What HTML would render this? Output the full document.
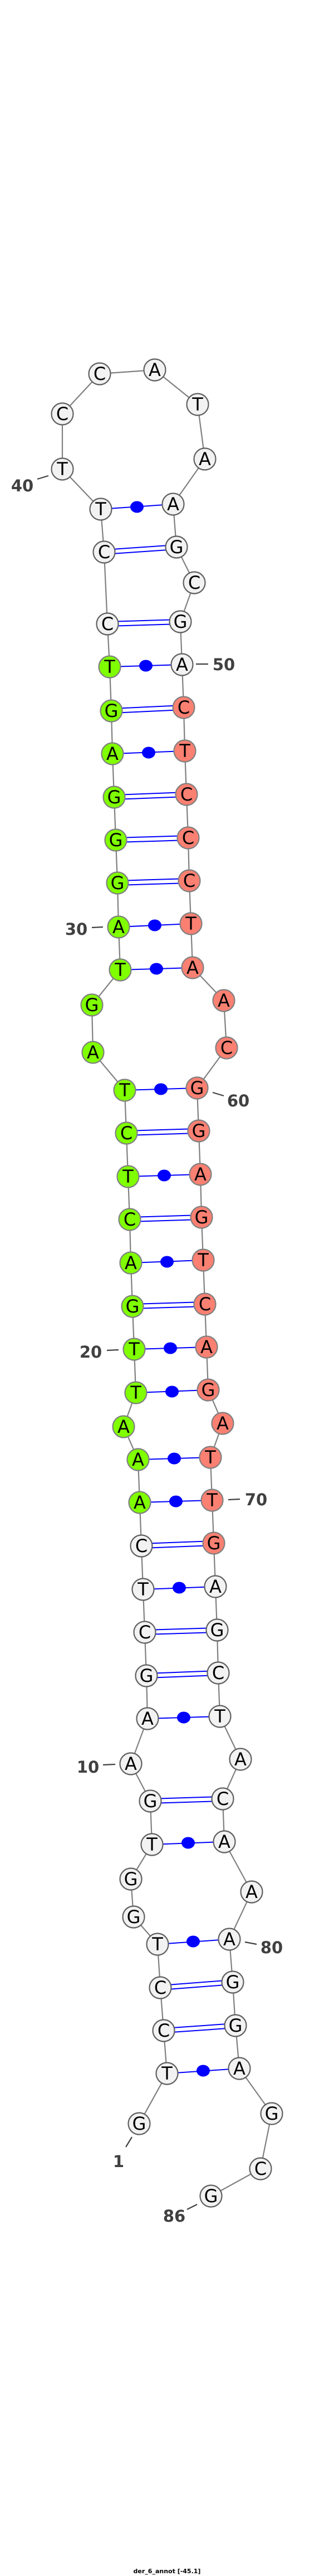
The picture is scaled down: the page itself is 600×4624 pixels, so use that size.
<!DOCTYPE html>
<html><head><meta charset="utf-8"><style>
html,body{margin:0;padding:0;background:#fff;}
svg{display:block;}
.n text{font-family:"DejaVu Sans","Liberation Sans",sans-serif;font-size:32px;text-anchor:middle;fill:#000;}
.lb{font-family:"DejaVu Sans","Liberation Sans",sans-serif;font-weight:bold;font-size:29px;fill:#404040;text-anchor:middle;}
.w{fill:#f2f2f2;stroke:#606060;stroke-width:2.2;}
.g{fill:#7fff00;stroke:#808080;stroke-width:2.2;}
.s{fill:#fa8072;stroke:#808080;stroke-width:2.2;}
.bp{stroke:#0000ff;stroke-width:2;fill:none;}
.tk{stroke:#404040;stroke-width:2.2;}
</style></head><body>
<svg width="600" height="4624" viewBox="0 0 600 4624" xmlns="http://www.w3.org/2000/svg">
<polyline fill="none" stroke="#808080" stroke-width="2.2" points="250,3812 300,3722 294,3645 288,3568 283,3490 240,3441 235,3373 273,3311 270,3233 235,3166 265,3085 263,3008 260,2930 257,2853 254,2775 251,2697 248,2620 222,2561 244,2500 241,2422 238,2345 235,2267 233,2189 230,2112 227,2034 224,1957 167,1889 165,1804 216,1741 213,1664 211,1585 208,1508 205,1431 202,1353 200,1276 197,1197 193,1120 187,991 181,914 112,842 112,743 179,671 278,664 355,726 368,824 311,905 317,982 349,1046 324,1116 327,1193 330,1270 332,1348 335,1426 338,1504 340,1581 343,1658 346,1737 402,1796 407,1881 354,1953 357,2030 360,2108 362,2185 365,2262 368,2341 371,2418 374,2495 400,2555 378,2616 381,2693 384,2770 387,2848 390,2926 392,3003 395,3081 432,3158 400,3229 403,3306 452,3396 412,3481 418,3558 423,3636 430,3713 488,3794 468,3893 379,3942"/>
<g class="bp">
<line x1="181" y1="914" x2="311" y2="905"/>
<line x1="187" y1="987" x2="317" y2="978"/><line x1="187" y1="995" x2="317" y2="986"/>
<line x1="193" y1="1116" x2="324" y2="1112"/><line x1="193" y1="1124" x2="324" y2="1120"/>
<line x1="197" y1="1197" x2="327" y2="1193"/>
<line x1="200" y1="1272" x2="330" y2="1266"/><line x1="200" y1="1280" x2="330" y2="1274"/>
<line x1="202" y1="1353" x2="332" y2="1348"/>
<line x1="205" y1="1427" x2="335" y2="1422"/><line x1="205" y1="1435" x2="335" y2="1430"/>
<line x1="208" y1="1504" x2="338" y2="1500"/><line x1="208" y1="1512" x2="338" y2="1508"/>
<line x1="211" y1="1581" x2="340" y2="1577"/><line x1="211" y1="1589" x2="340" y2="1585"/>
<line x1="213" y1="1664" x2="343" y2="1658"/>
<line x1="216" y1="1741" x2="346" y2="1737"/>
<line x1="224" y1="1957" x2="354" y2="1953"/>
<line x1="227" y1="2030" x2="357" y2="2026"/><line x1="227" y1="2038" x2="357" y2="2034"/>
<line x1="230" y1="2112" x2="360" y2="2108"/>
<line x1="233" y1="2185" x2="362" y2="2181"/><line x1="233" y1="2193" x2="362" y2="2189"/>
<line x1="235" y1="2267" x2="365" y2="2262"/>
<line x1="238" y1="2341" x2="368" y2="2337"/><line x1="238" y1="2349" x2="368" y2="2345"/>
<line x1="241" y1="2422" x2="371" y2="2418"/>
<line x1="244" y1="2500" x2="374" y2="2495"/>
<line x1="248" y1="2620" x2="378" y2="2616"/>
<line x1="251" y1="2697" x2="381" y2="2693"/>
<line x1="254" y1="2771" x2="384" y2="2766"/><line x1="254" y1="2779" x2="384" y2="2774"/>
<line x1="257" y1="2853" x2="387" y2="2848"/>
<line x1="260" y1="2926" x2="390" y2="2922"/><line x1="260" y1="2934" x2="390" y2="2930"/>
<line x1="263" y1="3004" x2="392" y2="2999"/><line x1="263" y1="3012" x2="392" y2="3007"/>
<line x1="265" y1="3085" x2="395" y2="3081"/>
<line x1="270" y1="3229" x2="400" y2="3225"/><line x1="270" y1="3237" x2="400" y2="3233"/>
<line x1="273" y1="3311" x2="403" y2="3306"/>
<line x1="283" y1="3490" x2="412" y2="3481"/>
<line x1="288" y1="3564" x2="418" y2="3554"/><line x1="288" y1="3572" x2="418" y2="3562"/>
<line x1="294" y1="3641" x2="423" y2="3632"/><line x1="294" y1="3649" x2="423" y2="3640"/>
<line x1="300" y1="3722" x2="430" y2="3713"/>
</g>
<g fill="#0000ff">
<ellipse cx="246" cy="910" rx="12" ry="10.5"/>
<ellipse cx="262" cy="1195" rx="12" ry="10.5"/>
<ellipse cx="267" cy="1351" rx="12" ry="10.5"/>
<ellipse cx="278" cy="1661" rx="12" ry="10.5"/>
<ellipse cx="281" cy="1739" rx="12" ry="10.5"/>
<ellipse cx="289" cy="1955" rx="12" ry="10.5"/>
<ellipse cx="295" cy="2110" rx="12" ry="10.5"/>
<ellipse cx="300" cy="2265" rx="12" ry="10.5"/>
<ellipse cx="306" cy="2420" rx="12" ry="10.5"/>
<ellipse cx="309" cy="2498" rx="12" ry="10.5"/>
<ellipse cx="313" cy="2618" rx="12" ry="10.5"/>
<ellipse cx="316" cy="2695" rx="12" ry="10.5"/>
<ellipse cx="322" cy="2850" rx="12" ry="10.5"/>
<ellipse cx="330" cy="3083" rx="12" ry="10.5"/>
<ellipse cx="338" cy="3308" rx="12" ry="10.5"/>
<ellipse cx="347" cy="3485" rx="12" ry="10.5"/>
<ellipse cx="365" cy="3717" rx="12" ry="10.5"/>
</g>
<g class="n">
<circle class="w" cx="179" cy="671" r="19.5"/><text x="179" y="682">C</text>
<circle class="w" cx="278" cy="664" r="19.5"/><text x="278" y="675">A</text>
<circle class="w" cx="355" cy="726" r="19.5"/><text x="355" y="737">T</text>
<circle class="w" cx="368" cy="824" r="19.5"/><text x="368" y="835">A</text>
<circle class="w" cx="311" cy="905" r="19.5"/><text x="311" y="916">A</text>
<circle class="w" cx="181" cy="914" r="19.5"/><text x="181" y="925">T</text>
<circle class="w" cx="112" cy="842" r="19.5"/><text x="112" y="853">T</text>
<circle class="w" cx="112" cy="743" r="19.5"/><text x="112" y="754">C</text>
<circle class="w" cx="187" cy="991" r="19.5"/><text x="187" y="1002">C</text>
<circle class="w" cx="317" cy="982" r="19.5"/><text x="317" y="993">G</text>
<circle class="w" cx="349" cy="1046" r="19.5"/><text x="349" y="1057">C</text>
<circle class="w" cx="193" cy="1120" r="19.5"/><text x="193" y="1131">C</text>
<circle class="w" cx="324" cy="1116" r="19.5"/><text x="324" y="1127">G</text>
<circle class="g" cx="197" cy="1197" r="19.5"/><text x="197" y="1208">T</text>
<circle class="w" cx="327" cy="1193" r="19.5"/><text x="327" y="1204">A</text>
<circle class="g" cx="200" cy="1276" r="19.5"/><text x="200" y="1287">G</text>
<circle class="s" cx="330" cy="1270" r="19.5"/><text x="330" y="1281">C</text>
<circle class="g" cx="202" cy="1353" r="19.5"/><text x="202" y="1364">A</text>
<circle class="s" cx="332" cy="1348" r="19.5"/><text x="332" y="1359">T</text>
<circle class="g" cx="205" cy="1431" r="19.5"/><text x="205" y="1442">G</text>
<circle class="s" cx="335" cy="1426" r="19.5"/><text x="335" y="1437">C</text>
<circle class="g" cx="208" cy="1508" r="19.5"/><text x="208" y="1519">G</text>
<circle class="s" cx="338" cy="1504" r="19.5"/><text x="338" y="1515">C</text>
<circle class="g" cx="211" cy="1585" r="19.5"/><text x="211" y="1596">G</text>
<circle class="s" cx="340" cy="1581" r="19.5"/><text x="340" y="1592">C</text>
<circle class="g" cx="213" cy="1664" r="19.5"/><text x="213" y="1675">A</text>
<circle class="s" cx="343" cy="1658" r="19.5"/><text x="343" y="1669">T</text>
<circle class="g" cx="216" cy="1741" r="19.5"/><text x="216" y="1752">T</text>
<circle class="s" cx="346" cy="1737" r="19.5"/><text x="346" y="1748">A</text>
<circle class="g" cx="165" cy="1804" r="19.5"/><text x="165" y="1815">G</text>
<circle class="s" cx="402" cy="1796" r="19.5"/><text x="402" y="1807">A</text>
<circle class="g" cx="167" cy="1889" r="19.5"/><text x="167" y="1900">A</text>
<circle class="s" cx="407" cy="1881" r="19.5"/><text x="407" y="1892">C</text>
<circle class="g" cx="224" cy="1957" r="19.5"/><text x="224" y="1968">T</text>
<circle class="s" cx="354" cy="1953" r="19.5"/><text x="354" y="1964">G</text>
<circle class="g" cx="227" cy="2034" r="19.5"/><text x="227" y="2045">C</text>
<circle class="s" cx="357" cy="2030" r="19.5"/><text x="357" y="2041">G</text>
<circle class="g" cx="230" cy="2112" r="19.5"/><text x="230" y="2123">T</text>
<circle class="s" cx="360" cy="2108" r="19.5"/><text x="360" y="2119">A</text>
<circle class="g" cx="233" cy="2189" r="19.5"/><text x="233" y="2200">C</text>
<circle class="s" cx="362" cy="2185" r="19.5"/><text x="362" y="2196">G</text>
<circle class="g" cx="235" cy="2267" r="19.5"/><text x="235" y="2278">A</text>
<circle class="s" cx="365" cy="2262" r="19.5"/><text x="365" y="2273">T</text>
<circle class="g" cx="238" cy="2345" r="19.5"/><text x="238" y="2356">G</text>
<circle class="s" cx="368" cy="2341" r="19.5"/><text x="368" y="2352">C</text>
<circle class="g" cx="241" cy="2422" r="19.5"/><text x="241" y="2433">T</text>
<circle class="s" cx="371" cy="2418" r="19.5"/><text x="371" y="2429">A</text>
<circle class="g" cx="244" cy="2500" r="19.5"/><text x="244" y="2511">T</text>
<circle class="s" cx="374" cy="2495" r="19.5"/><text x="374" y="2506">G</text>
<circle class="g" cx="222" cy="2561" r="19.5"/><text x="222" y="2572">A</text>
<circle class="s" cx="400" cy="2555" r="19.5"/><text x="400" y="2566">A</text>
<circle class="g" cx="248" cy="2620" r="19.5"/><text x="248" y="2631">A</text>
<circle class="s" cx="378" cy="2616" r="19.5"/><text x="378" y="2627">T</text>
<circle class="g" cx="251" cy="2697" r="19.5"/><text x="251" y="2708">A</text>
<circle class="s" cx="381" cy="2693" r="19.5"/><text x="381" y="2704">T</text>
<circle class="w" cx="254" cy="2775" r="19.5"/><text x="254" y="2786">C</text>
<circle class="s" cx="384" cy="2770" r="19.5"/><text x="384" y="2781">G</text>
<circle class="w" cx="257" cy="2853" r="19.5"/><text x="257" y="2864">T</text>
<circle class="w" cx="387" cy="2848" r="19.5"/><text x="387" y="2859">A</text>
<circle class="w" cx="260" cy="2930" r="19.5"/><text x="260" y="2941">C</text>
<circle class="w" cx="390" cy="2926" r="19.5"/><text x="390" y="2937">G</text>
<circle class="w" cx="263" cy="3008" r="19.5"/><text x="263" y="3019">G</text>
<circle class="w" cx="392" cy="3003" r="19.5"/><text x="392" y="3014">C</text>
<circle class="w" cx="265" cy="3085" r="19.5"/><text x="265" y="3096">A</text>
<circle class="w" cx="395" cy="3081" r="19.5"/><text x="395" y="3092">T</text>
<circle class="w" cx="235" cy="3166" r="19.5"/><text x="235" y="3177">A</text>
<circle class="w" cx="432" cy="3158" r="19.5"/><text x="432" y="3169">A</text>
<circle class="w" cx="270" cy="3233" r="19.5"/><text x="270" y="3244">G</text>
<circle class="w" cx="400" cy="3229" r="19.5"/><text x="400" y="3240">C</text>
<circle class="w" cx="273" cy="3311" r="19.5"/><text x="273" y="3322">T</text>
<circle class="w" cx="403" cy="3306" r="19.5"/><text x="403" y="3317">A</text>
<circle class="w" cx="235" cy="3373" r="19.5"/><text x="235" y="3384">G</text>
<circle class="w" cx="240" cy="3441" r="19.5"/><text x="240" y="3452">G</text>
<circle class="w" cx="452" cy="3396" r="19.5"/><text x="452" y="3407">A</text>
<circle class="w" cx="283" cy="3490" r="19.5"/><text x="283" y="3501">T</text>
<circle class="w" cx="412" cy="3481" r="19.5"/><text x="412" y="3492">A</text>
<circle class="w" cx="288" cy="3568" r="19.5"/><text x="288" y="3579">C</text>
<circle class="w" cx="418" cy="3558" r="19.5"/><text x="418" y="3569">G</text>
<circle class="w" cx="294" cy="3645" r="19.5"/><text x="294" y="3656">C</text>
<circle class="w" cx="423" cy="3636" r="19.5"/><text x="423" y="3647">G</text>
<circle class="w" cx="300" cy="3722" r="19.5"/><text x="300" y="3733">T</text>
<circle class="w" cx="430" cy="3713" r="19.5"/><text x="430" y="3724">A</text>
<circle class="w" cx="250" cy="3812" r="19.5"/><text x="250" y="3823">G</text>
<circle class="w" cx="488" cy="3794" r="19.5"/><text x="488" y="3805">G</text>
<circle class="w" cx="468" cy="3893" r="19.5"/><text x="468" y="3904">C</text>
<circle class="w" cx="379" cy="3942" r="19.5"/><text x="379" y="3953">G</text>
</g>
<g class="tk">
<line x1="67" y1="860" x2="87" y2="854"/>
<line x1="352" y1="1192" x2="374" y2="1192"/>
<line x1="165" y1="1665" x2="185" y2="1664"/>
<line x1="382" y1="1961" x2="402" y2="1967"/>
<line x1="192" y1="2424" x2="213" y2="2423"/>
<line x1="410" y1="2692" x2="431" y2="2691"/>
<line x1="185" y1="3168" x2="207" y2="3167"/>
<line x1="440" y1="3486" x2="461" y2="3490"/>
<line x1="237" y1="3836" x2="226" y2="3854"/>
<line x1="336" y1="3966" x2="354" y2="3957"/>
</g>
<g class="lb">
<text x="40" y="882">40</text>
<text x="402" y="1203">50</text>
<text x="137" y="1678">30</text>
<text x="428" y="1986">60</text>
<text x="163" y="2437">20</text>
<text x="460" y="2702">70</text>
<text x="158" y="3182">10</text>
<text x="488" y="3506">80</text>
<text x="213" y="3890">1</text>
<text x="313" y="3988">86</text>
</g>
<text x="300" y="4619" font-family="'DejaVu Sans','Liberation Sans',sans-serif" font-weight="bold" font-size="11" text-anchor="middle" fill="#000">der_6_annot [-45.1]</text>
</svg>
</body></html>
